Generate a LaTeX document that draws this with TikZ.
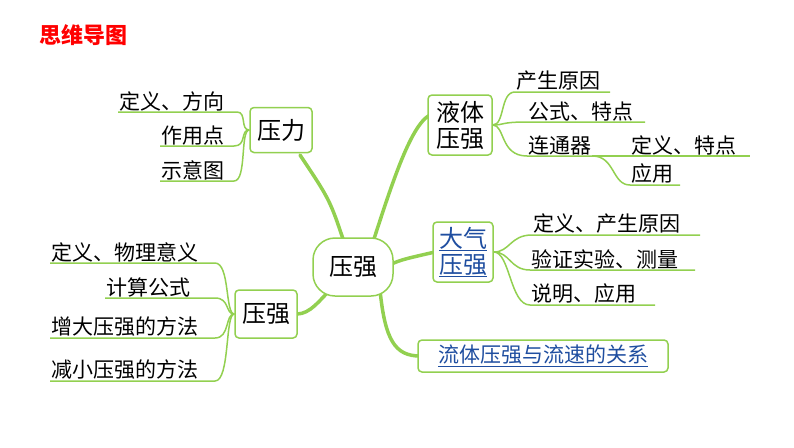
\documentclass[tikz,border=0pt]{standalone}
\usepackage{fontspec}
\setmainfont{Noto Sans CJK SC}
\definecolor{mapgreen}{RGB}{146,208,80}
\definecolor{linkblue}{RGB}{31,78,160}
\tikzset{
  topic/.style={draw=mapgreen,line width=1.5pt,rounded corners=4pt,fill=white,inner sep=2pt,font=\fontsize{24}{26}\selectfont,align=center},
  leaf/.style={inner sep=1pt,anchor=south west,font=\fontsize{21}{24}\selectfont},
  branch/.style={mapgreen,line width=3.5pt,line cap=round},
  twig/.style={mapgreen,line width=1.5pt},
}
\begin{document}
\begin{tikzpicture}[x=1pt,y=-1pt]
\useasboundingbox (0,0) rectangle (794,447);
\node(title) at (83,35)[font=\fontsize{22}{24}\selectfont\bfseries,text=red]{思维导图};
% main branches
\coordinate(cc) at (353,267);
\draw[branch] (345,245) .. controls (330,200) .. (300,155);
\draw[branch] (372,245) .. controls (390,190) and (410,125) .. (430,115);
\draw[branch] (385,267) .. controls (400,260) .. (435,252);
\draw[branch] (380,290) .. controls (385,340) and (395,356) .. (420,356);
\draw[branch] (330,290) .. controls (320,300) and (310,314) .. (297,314);
\node(center) at (cc)[topic,rounded corners=22pt,minimum width=80pt,minimum height=58pt]{压强};
\node(force) at (281,130)[topic,minimum width=62pt,minimum height=45pt]{压力};
\node(press) at (266,314)[topic,minimum width=62pt,minimum height=48pt]{压强};
\node(liquid) at (460,125)[topic,minimum width=64pt,minimum height=60pt]{液体\\压强};
\node(air) at (463,252)[topic,minimum width=60pt,minimum height=60pt,text=linkblue]{\underline{大气}\\\underline{压强}};
\node(fluid) at (543,356)[topic,minimum width=250pt,minimum height=32pt,font=\fontsize{21}{24}\selectfont,text=linkblue]{\underline{流体压强与流速的关系}};
% leaves of force
\node(f1) at (118,112)[leaf]{定义、方向};
\node(f2) at (160,146)[leaf]{作用点};
\node(f3) at (160,181)[leaf]{示意图};
\foreach \n/\x in {f1/237,f2/234,f3/234}
  \draw[twig] (\n.south west) -- (\x,0 |- \n.south) .. controls (247,0 |- \n.south) and (240,130) .. (force.west);
% leaves of press
\node(p1) at (50,263)[leaf]{定义、物理意义};
\node(p2) at (105,298)[leaf]{计算公式};
\node(p3) at (50,338)[leaf]{增大压强的方法};
\node(p4) at (50,381)[leaf]{减小压强的方法};
\foreach \n in {p1,p2,p3,p4}
  \draw[twig] (\n.south west) -- (215,0 |- \n.south) .. controls (230,0 |- \n.south) and (225,314) .. (press.west);
% leaves of liquid
\node(l1) at (515,92)[leaf]{产生原因};
\node(l2) at (527,122)[leaf]{公式、特点};
\node(l3) at (527,156)[leaf]{连通器};
\foreach \n/\x in {l1/610,l2/645,l3/605}
  \draw[twig] (liquid.east) .. controls (505,125) and (500,0 |- \n.south) .. (\n.south west) -- (\x,0 |- \n.south);
\node(c1) at (630,156)[leaf]{定义、特点};
\node(c2) at (630,185)[leaf]{应用};
\foreach \n/\x in {c1/750,c2/680}
  \draw[twig] (l3.south east) .. controls (615,156) and (612,0 |- \n.south) .. (\n.south west) -- (\x,0 |- \n.south);
% leaves of air
\node(a1) at (532,235)[leaf]{定义、产生原因};
\node(a2) at (530,270)[leaf]{验证实验、测量};
\node(a3) at (530,305)[leaf]{说明、应用};
\foreach \n/\x in {a1/700,a2/695,a3/655}
  \draw[twig] (air.east) .. controls (510,252) and (510,0 |- \n.south) .. (\n.south west) -- (\x,0 |- \n.south);
\end{tikzpicture}
\end{document}
